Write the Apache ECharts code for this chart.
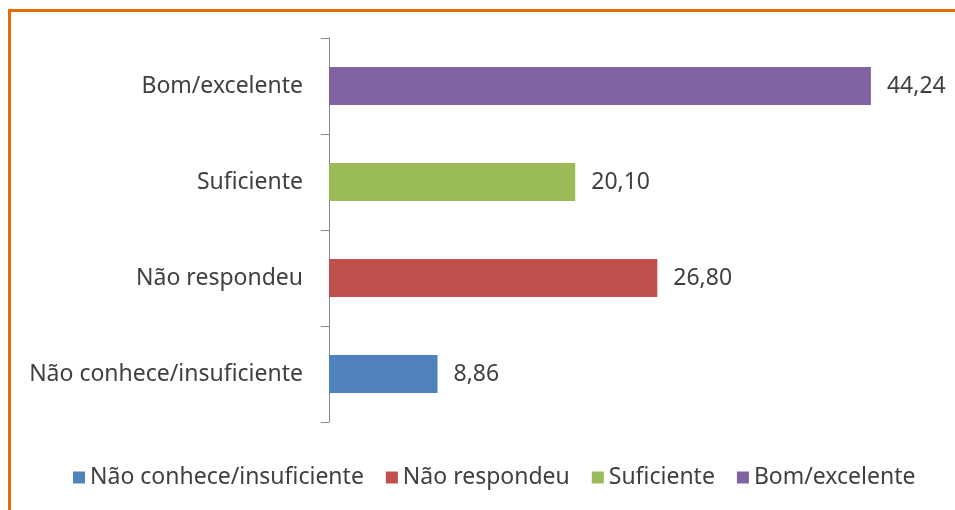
<!DOCTYPE html>
<html>
<head>
<meta charset="utf-8">
<script src="https://cdn.jsdelivr.net/npm/echarts@6/dist/echarts.min.js"></script>
<style>
  html, body { margin: 0; padding: 0; background: #fff; }
  #chart { width: 955px; height: 510px; }
</style>
</head>
<body>
<div id="chart"></div>
<script>
const categories = ['Não conhece/insuficiente', 'Não respondeu', 'Suficiente', 'Bom/excelente']
const values = [8.86, 26.80, 20.10, 44.24]
const colors = ['#4F81BD', '#C0504D', '#9BBB59', '#8064A2']

const font = 'Noto Sans'

const myChart = echarts.init(document.getElementById('chart'))

// one series per category so the legend shows every colour
const series = categories.map((name, i) => ({
  type: 'bar',
  name: name,
  stack: 'all',
  barWidth: 38,
  itemStyle: { color: colors[i] },
  label: {
    show: true,
    position: 'right',
    distance: 16,
    color: '#404040',
    fontFamily: font,
    fontSize: 23,
    formatter: p => p.value.toFixed(2).replace('.', ',')
  },
  data: categories.map((c, j) => (j === i ? values[i] : '-'))
}))

const option = {
  animation: false,
  backgroundColor: '#fff',
  graphic: [{
    type: 'rect',
    shape: { x: 9.5, y: 10.5, width: 1000, height: 600 },
    style: { fill: 'none', stroke: '#E46C0A', lineWidth: 3 }
  }],
  legend: {
    data: categories,
    top: 461,
    left: 68,
    itemWidth: 12,
    itemHeight: 12,
    itemGap: 22,
    icon: 'rect',
    textStyle: { color: '#404040', fontFamily: font, fontSize: 23 }
  },
  grid: { left: 329, top: 38, width: 612.5, height: 384, containLabel: false },
  xAxis: {
    type: 'value',
    min: 0,
    max: 50,
    show: false
  },
  yAxis: {
    type: 'category',
    data: categories,
    axisLine: { lineStyle: { color: '#888', width: 1 } },
    axisTick: { show: true, length: 8, lineStyle: { color: '#888' } },
    axisLabel: { color: '#404040', fontFamily: font, fontSize: 23, margin: 26 }
  },
  series
}

myChart.setOption(option)
</script>
</body>
</html>
